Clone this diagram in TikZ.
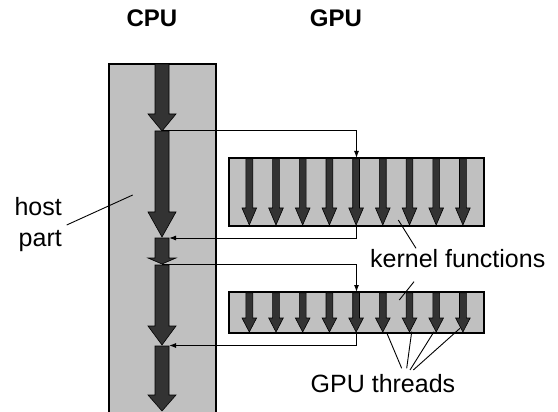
\documentclass[tikz,border=0pt]{standalone}
\usepackage{fontspec}
\setmainfont{Liberation Sans}
\usetikzlibrary{arrows.meta}
\definecolor{boxgray}{RGB}{192,192,192}
\definecolor{arrowgray}{RGB}{51,51,51}
\tikzset{
  box/.style={draw=black, fill=boxgray, inner sep=0pt, outer sep=0pt, anchor=north west},
  fatarrow/.style={fill=arrowgray, draw=black, line width=0.6pt, line join=miter},
  conn/.style={draw=black, line width=1pt, -{Latex[length=7pt,width=5pt]}},
  leader/.style={draw=black, line width=0.9pt},
  lbl/.style={font=\fontsize{25}{30}\selectfont, inner sep=0pt},
  ttl/.style={font=\bfseries\fontsize{24}{30}\selectfont, inner sep=0pt},
}
\newcommand{\fatarr}[6]{% x, top, headstart, tip, half shaft, half head
  \filldraw[fatarrow] (#1-#5,#2) -- (#1+#5,#2) -- (#1+#5,#3) -- (#1+#6,#3) -- (#1,#4) -- (#1-#6,#3) -- (#1-#5,#3) -- cycle;}
\begin{document}
\begin{tikzpicture}[x=1pt,y=-1pt]
\useasboundingbox (0,0) rectangle (558,412);
% titles
\node[ttl] (cputitle) at (152,18) {CPU};
\node[ttl] (gputitle) at (336,18) {GPU};
% CPU box
\node[box, line width=2pt, minimum width=107pt, minimum height=348pt] (cpu) at (109,64.5) {};
% CPU arrows
\fatarr{162}{64}{114}{131}{7}{14}
\fatarr{162}{131}{212}{237}{7}{14}
\fatarr{162}{238}{258}{264}{7}{14}
\fatarr{162}{265}{326}{345}{7}{14}
\fatarr{162}{346}{395}{411}{7}{14}
% kernel boxes
\node[box, line width=1.6pt, minimum width=255pt, minimum height=68pt] (k1) at (229,158) {};
\node[box, line width=1.6pt, minimum width=255pt, minimum height=41pt] (k2) at (229,292) {};
% thread arrows
\foreach \i in {0,...,8}{
  \pgfmathsetmacro{\tx}{249.3+26.7*\i}
  \fatarr{\tx}{158.8}{208}{225}{3.4}{7.3}
  \fatarr{\tx}{292.8}{318}{332}{3.4}{7.3}
}
% connector points
\coordinate (t1) at (162,131);
\coordinate (r1) at (169,238);
\coordinate (t3) at (162,264.5);
\coordinate (r2) at (169,345.5);
\draw[conn] (t1) -| (k1.north);
\draw[conn] (k1.south) |- (r1);
\draw[conn] (t3) -| (k2.north);
\draw[conn] (k2.south) |- (r2);
% labels
\node[lbl, anchor=base east] (host) at (62,215.7) {host};
\node[lbl, anchor=base east] (part) at (62,246.7) {part};
\node[lbl, anchor=base west] (kf) at (370,267.3) {kernel functions};
\node[lbl, anchor=base west] (gt) at (310.5,392.3) {GPU threads};
% leader lines
\coordinate (hl1) at (66.7,225);
\coordinate (hl2) at (132.7,195);
\draw[leader] (hl1) -- (hl2);
\coordinate (kl1) at (398.3,220);
\coordinate (kl2) at (416,248.3);
\coordinate (kl3) at (399.3,300);
\coordinate (kl4) at (414,281.7);
\draw[leader] (kl2) -- (kl1);
\draw[leader] (kl4) -- (kl3);
\coordinate (g1) at (401.7,368.3);
\coordinate (g2) at (406.7,368.3);
\coordinate (g3) at (410,370);
\coordinate (g4) at (413.3,370);
\coordinate (h1) at (386.7,332.7);
\coordinate (h2) at (411.7,331.7);
\coordinate (h3) at (434,331.7);
\coordinate (h4) at (460,328.3);
\draw[leader] (g1) -- (h1);
\draw[leader] (g2) -- (h2);
\draw[leader] (g3) -- (h3);
\draw[leader] (g4) -- (h4);
\end{tikzpicture}
\end{document}
